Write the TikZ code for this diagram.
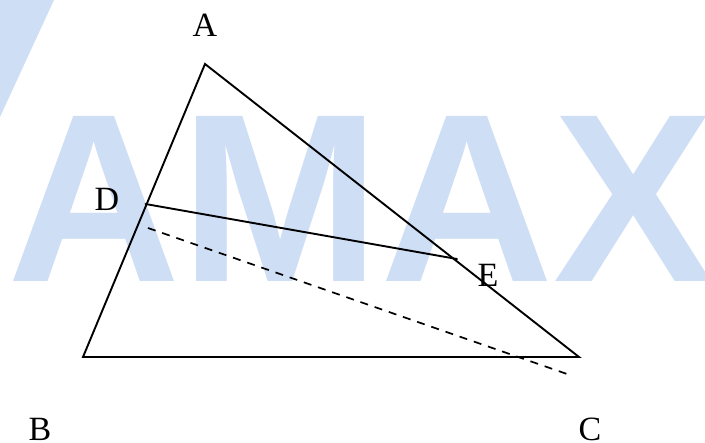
\documentclass[tikz,border=0pt]{standalone}
\usepackage{fontspec}
\setmainfont{Liberation Serif}
\newfontfamily\wmfont{Liberation Sans}
\definecolor{wmblue}{RGB}{206,222,245}
\tikzset{
  seg/.style={line width=1.9pt, line cap=round},
  dsh/.style={line width=1.7pt, dash pattern=on 8pt off 7pt},
  lbl/.style={font=\fontsize{34}{34}\selectfont, inner sep=0pt},
}
\begin{document}
\begin{tikzpicture}[x=1pt,y=-1pt]
\useasboundingbox (0,0) rectangle (705,443);
% watermark
\fill[wmblue] (0,0) -- (54,0) -- (0,117) -- cycle;
\node[anchor=base west, inner sep=0pt, text=wmblue, font=\wmfont\bfseries\fontsize{240}{240}\selectfont] (wm) at (7,282) {AMAX};
% points
\coordinate (A) at (205,64);
\coordinate (B) at (83,357);
\coordinate (C) at (579,357);
\coordinate (D) at (145.5,204);
\coordinate (E) at (457,259);
\coordinate (P) at (148,228);
\coordinate (Q) at (567,374);
% triangle
\draw[seg] (A) -- (B) -- (C) -- cycle;
\draw[seg] (D) -- (E);
\draw[dsh] (P) -- (Q);
% labels
\node[lbl] (lA) at (205,25) {A};
\node[lbl] (lD) at (107,199) {D};
\node[lbl] (lE) at (488,275) {E};
\node[lbl] (lB) at (40,429) {B};
\node[lbl] (lC) at (590,429) {C};
\end{tikzpicture}
\end{document}
